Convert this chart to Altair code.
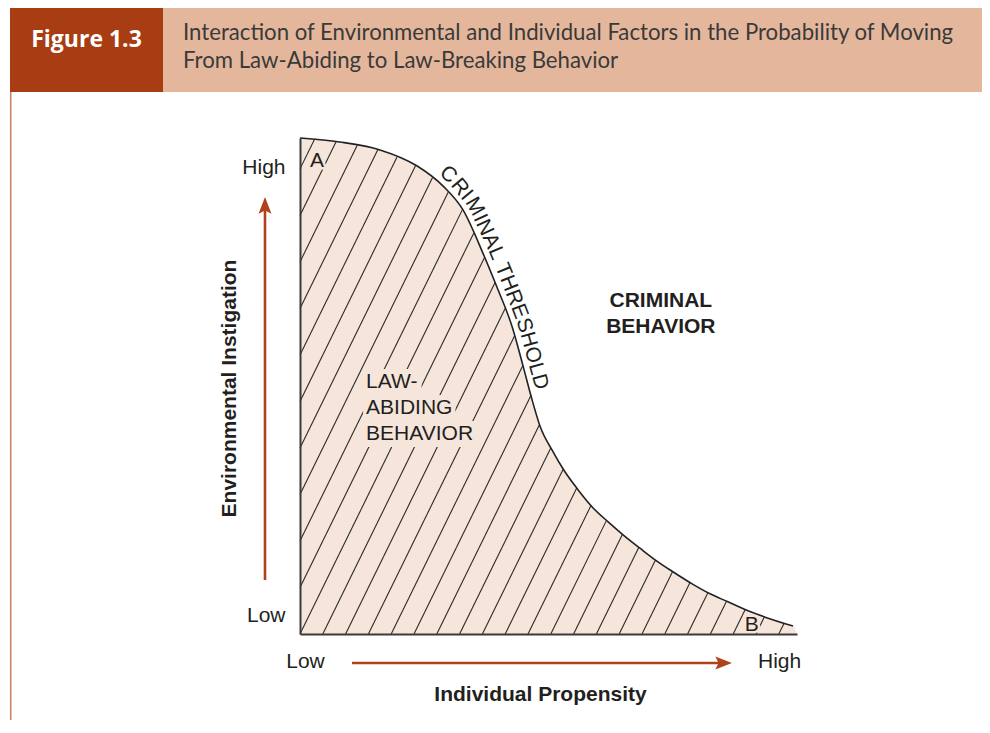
import numpy as np
import pandas as pd
import altair as alt

# ---------------- data (both axes run 0 = low .. 100 = high) ----------------
curve_x = [0, 8.0, 16.1, 23.5, 28.8, 32.8, 36.8, 39.6, 42.7, 45.1, 46.7, 48.3, 50.7, 53.3, 55.7,
           58.8, 62.0, 65.0, 68.4, 71.8, 75.1, 78.9, 82.5, 86.1, 89.9, 93.6, 99.2]
curve_y = [100, 99.2, 97.6, 94.4, 90.3, 85.5, 76.8, 70.0, 61.9, 53.2, 47.2, 41.9, 37.1, 32.7, 29.4,
           25.6, 22.6, 20.0, 17.3, 14.7, 12.5, 10.1, 8.1, 6.5, 4.8, 3.4, 1.6]
x_tick_values = [1.0, 96.4]
y_tick_values = [3.8, 94.0]
region_lines = ["LAW-", "ABIDING", "BEHAVIOR"]
crime_lines = ["CRIMINAL", "BEHAVIOR"]
threshold_label = "CRIMINAL THRESHOLD"
point_labels = ["A", "B"]
fig_label = "Figure 1.3"
title_lines = ["Interaction of Environmental and Individual Factors in the Probability of Moving",
               "From Law-Abiding to Law-Breaking Behavior"]
x_title = "Individual Propensity"
y_title = "Environmental Instigation"

# ---------------- layout / style ----------------
W, H = 497, 496
FONT = "Liberation Sans"
INK = "#231f20"
FILL = "#f6e5db"
RUST = "#a83c12"
PEACH = "#e4b79c"
ARROW = "#b0421a"
BORDER = "#c98562"
FS = 21

xs = alt.Scale(domain=[0, 100], nice=False, zero=False)
ys = alt.Scale(domain=[0, 100], nice=False, zero=False)
AX = alt.Axis(
    values=x_tick_values, labelExpr="datum.value > 50 ? 'High' : 'Low'",
    labelFont=FONT, labelFontSize=FS, labelColor=INK, labelPadding=16, labelFlush=False,
    labelOverlap=False, ticks=False, tickSize=0, grid=False,
    domainColor="#3a3a3a", domainWidth=2, zindex=1,
    title=x_title, titleFont=FONT, titleFontSize=FS, titleFontWeight="bold", titleColor=INK,
    titleX=240, titleY=66, titleBaseline="alphabetic", titleAlign="center")
AY = alt.Axis(
    values=y_tick_values, labelExpr="datum.value > 50 ? 'High' : 'Low'",
    labelFont=FONT, labelFontSize=FS, labelColor=INK, labelPadding=15, labelFlush=False,
    labelOverlap=False, labelBaseline="middle", labelAlign="right",
    ticks=False, tickSize=0, grid=False,
    domainColor="#3a3a3a", domainWidth=2, zindex=1,
    title=y_title, titleFont=FONT, titleFontSize=FS, titleFontWeight="bold", titleColor=INK,
    titleX=-71, titleY=250, titleAngle=270, titleBaseline="middle", titleAlign="center")


def X(f="x"):
    return alt.X(f"{f}:Q", scale=xs, axis=AX)


def Y(f="y"):
    return alt.Y(f"{f}:Q", scale=ys, axis=AY)


one = pd.DataFrame({"k": [0]})

# ---------------- hatching clipped to the law-abiding region ----------------
HATCH_SLOPE = 2.04 * (W / 100) / (H / 100)
HATCH_STEP = 22.8 / (W / 100)
area_x = curve_x + [100]
area_y = curve_y + [0]
gx = np.linspace(0, 100, 40001)
gy = np.interp(gx, area_x, area_y)
rows = []
for k in range(-30, 30):
    x0 = k * HATCH_STEP
    if x0 >= 100:
        break
    if x0 >= 0:
        sx, sy = x0, 0.0
    else:
        sx, sy = 0.0, -HATCH_SLOPE * x0
    if sy >= gy[0]:
        continue
    ly = HATCH_SLOPE * (gx - x0)
    ok = (gx >= sx) & (ly >= gy)
    if not ok.any():
        continue
    i = int(np.argmax(ok))
    rows.append(dict(x=sx, y=sy, x2=float(gx[i]), y2=float(gy[i])))
hatch_df = pd.DataFrame(rows)

# ---------------- text metrics (Arial / Liberation Sans em widths) ----------------
EM = {"C": .722, "R": .722, "I": .278, "M": .833, "N": .722, "A": .667, "L": .556, " ": .278,
      "T": .611, "H": .722, "E": .667, "S": .667, "O": .778, "D": .722, "B": .667, "V": .667,
      "W": .944, "-": .333, "G": .778}

# ---------------- "CRIMINAL THRESHOLD" set along the curve ----------------
cpx = np.array(curve_x) * W / 100
cpy = H - np.array(curve_y) * H / 100
sc = np.concatenate([[0], np.cumsum(np.hypot(np.diff(cpx), np.diff(cpy)))])


def at(s):
    return float(np.interp(s, sc, cpx)), float(np.interp(s, sc, cpy))


dense = np.arange(0, sc[-1], 0.25)
dpx = np.interp(dense, sc, cpx)
dpy = np.interp(dense, sc, cpy)
s_start = dense[np.argmax(dpx >= 134)]
s_end = dense[np.argmax(dpy >= 254)]
widths = [EM[c] * FS for c in threshold_label]
gap = (s_end - s_start - sum(widths)) / (len(widths) - 1)
letters = []
pos = s_start
for c, w in zip(threshold_label, widths):
    sm = pos + w / 2
    x1, y1 = at(sm - 8)
    x2, y2 = at(sm + 8)
    th = np.arctan2(y2 - y1, x2 - x1)
    bx, by = at(sm)
    bx += 6 * np.sin(th)
    by -= 6 * np.cos(th)
    if c != " ":
        letters.append(dict(ch=c, x=bx / W * 100, y=(H - by) / H * 100, ang=float(np.degrees(th))))
    pos += w + gap
letters_df = pd.DataFrame(letters)

# ---------------- region label and its knock-out box (cuts the hatching) ----------------
REG_X, REG_Y = 13.3, [49.6, 44.35, 39.1]
region_df = pd.DataFrame({"t": region_lines, "x": REG_X, "y": REG_Y})
kx = W / 100
ky = H / 100
knock_df = pd.DataFrame({
    "x": [REG_X - 3 / kx] * 3,
    "x2": [REG_X + (sum(EM[c] for c in t) * FS + 3) / kx for t in region_lines],
    "y": [yy + 19 / ky for yy in REG_Y],
    "y2": [yy - 7 / ky for yy in REG_Y],
})
point_df = pd.DataFrame({"t": point_labels, "x": [2.0, 89.5], "y": [94.15, 0.6]})

# ---------------- layers ----------------
header_dark = alt.Chart(one).mark_rect(fill=RUST).encode(
    x=alt.value(-290), x2=alt.value(-137), y=alt.value(-133), y2=alt.value(-46))
header_peach = alt.Chart(one).mark_rect(fill=PEACH).encode(
    x=alt.value(-137), x2=alt.value(700), y=alt.value(-133), y2=alt.value(-46))
border = alt.Chart(one).mark_rule(stroke=BORDER, strokeWidth=1.6).encode(
    x=alt.value(-289.3), y=alt.value(-46), y2=alt.value(600))

fig_text = alt.Chart(one).mark_text(
    font="Open Sans", fontSize=23, fontWeight="bold", color="white", align="center", baseline="alphabetic"
).encode(x=alt.value(-213.5), y=alt.value(-91), text=alt.value(fig_label))

title_1 = alt.Chart(one).mark_text(
    font="Lato", fontSize=22.2, color="#3a3a3a", align="left", baseline="alphabetic"
).encode(x=alt.value(-117), y=alt.value(-98), text=alt.value(title_lines[0]))
title_2 = alt.Chart(one).mark_text(
    font="Lato", fontSize=22.2, color="#3a3a3a", align="left", baseline="alphabetic"
).encode(x=alt.value(-117), y=alt.value(-70), text=alt.value(title_lines[1]))

area = alt.Chart(pd.DataFrame({"x": area_x, "y": area_y})).mark_area(
    fill=FILL, interpolate="monotone"
).encode(x=X(), y=Y())

hatch = alt.Chart(hatch_df).mark_rule(stroke="#2a2a2a", strokeWidth=1.1).encode(
    x=X(), y=Y(), x2="x2:Q", y2="y2:Q")

knock = alt.Chart(knock_df).mark_rect(fill=FILL).encode(x=X(), y=Y(), x2="x2:Q", y2="y2:Q")

point_halo = alt.Chart(point_df).mark_text(
    font=FONT, fontSize=FS, align="left", baseline="alphabetic"
).encode(x=X(), y=Y(), text="t:N", fill=alt.value(FILL), stroke=alt.value(FILL),
         strokeWidth=alt.value(5))

region_text = alt.Chart(region_df).mark_text(
    font=FONT, fontSize=FS, align="left", baseline="alphabetic", color=INK
).encode(x=X(), y=Y(), text="t:N")
point_text = alt.Chart(point_df).mark_text(
    font=FONT, fontSize=FS, align="left", baseline="alphabetic", color=INK
).encode(x=X(), y=Y(), text="t:N")

crime_df = pd.DataFrame({"t": crime_lines, "x": [72.6, 72.6], "y": [65.9, 60.7]})
crime_text = alt.Chart(crime_df).mark_text(
    font=FONT, fontSize=FS, fontWeight="bold", align="center", baseline="alphabetic", color=INK
).encode(x=X(), y=Y(), text="t:N")

curve = alt.Chart(pd.DataFrame({"x": curve_x, "y": curve_y})).mark_line(
    color="#222222", strokeWidth=1.6, interpolate="monotone"
).encode(x=X(), y=Y())

thr_text = alt.Chart(letters_df).mark_text(
    font=FONT, fontSize=FS, align="center", baseline="alphabetic", color=INK
).encode(x=X(), y=Y(), text="ch:N", angle=alt.Angle("ang:Q", scale=None))

HEAD = "M0,-1L0.72,0.86L0,0.5L-0.72,0.86Z"
v_shaft = alt.Chart(one).mark_rule(stroke=ARROW, strokeWidth=2.6).encode(
    x=alt.value(-35), y=alt.value(442), y2=alt.value(72))
v_head = alt.Chart(one).mark_point(shape=HEAD, size=320, filled=True, color=ARROW, opacity=1,
                                   strokeWidth=0).encode(x=alt.value(-35), y=alt.value(68))
h_shaft = alt.Chart(one).mark_rule(stroke=ARROW, strokeWidth=2.6).encode(
    x=alt.value(52), x2=alt.value(419), y=alt.value(525))
h_head = alt.Chart(one).mark_point(shape=HEAD, size=320, filled=True, color=ARROW, opacity=1,
                                   strokeWidth=0, angle=90).encode(x=alt.value(423), y=alt.value(525))

chart = alt.layer(
    area, header_dark, header_peach, border, fig_text, title_1, title_2, hatch,
    knock, point_halo, region_text, point_text,
    crime_text, curve, thr_text, v_shaft, v_head, h_shaft, h_head
).properties(
    width=W, height=H,
    background="white",
    autosize=alt.AutoSizeParams(type="none"),
    padding={"left": 292, "top": 130, "right": 185, "bottom": 86},
).configure_view(strokeWidth=0)

chart.save("out.html", embed_options={"renderer": "svg", "actions": False})
